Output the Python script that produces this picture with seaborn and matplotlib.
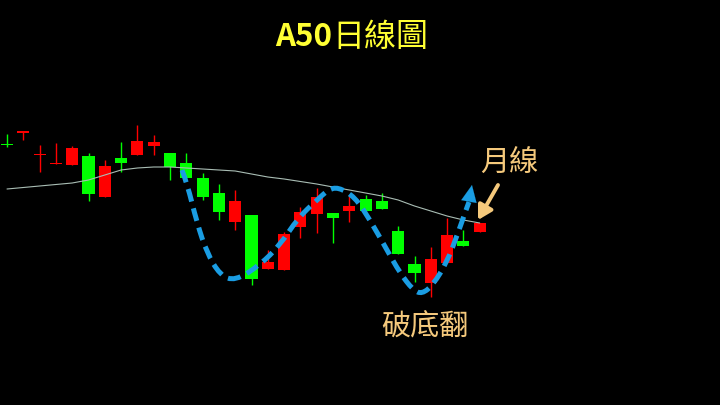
import numpy as np
import pandas as pd
import matplotlib
matplotlib.use("Agg")
import matplotlib.pyplot as plt
from matplotlib.path import Path
from matplotlib.patches import PathPatch
import seaborn as sns

# 日K資料 (相對價位, 由圖讀出)
body_top = [261, 274, 250.5, 241.5, 257, 249, 239, 247, 264, 263,
            252, 242, 227, 212, 204, 190, 143, 171, 193, 208,
            192, 199, 206, 204, 174, 141, 146, 170, 164, 182]
body_bot = [260, 272, 250, 241, 240, 211, 208, 242, 250, 259,
            238, 227, 208, 193, 183, 126, 136, 135, 178, 191,
            187, 194, 194, 196, 151, 132, 122, 142, 159, 173]
high = [271, 274, 260, 262, 259, 252, 245, 263, 280, 270,
        252, 252, 232, 221, 215, 190, 155, 173, 198, 217,
        192, 210, 210, 212, 179, 149, 158, 187, 175, 182]
low = [258, 265, 233, 241, 240, 204, 208, 233, 250, 250,
       225, 227, 205, 185, 175, 120, 136, 135, 167, 172,
       162, 183, 194, 196, 151, 123, 108, 142, 159, 173]
is_red = [0, 1, 1, 1, 1, 0, 1, 0, 1, 1,
          0, 0, 0, 0, 1, 0, 1, 1, 1, 1,
          0, 1, 0, 0, 0, 0, 1, 1, 0, 1]
ma_line = [216, 217.5, 219, 220.5, 222, 225, 230, 235, 237, 238,
           238, 237, 236, 235, 234, 231, 228, 226, 223.5, 221,
           218, 215, 212, 209, 205, 199, 194, 189, 185, 182]

# 手繪破底翻虛線 (畫面像素)
swing_x = [182, 187, 197, 207, 220, 235, 260, 280, 298, 317, 328, 338,
           355, 370, 387, 400, 413, 422, 433, 447, 458, 466, 469]
swing_y = [170, 183, 223, 253, 275, 281, 265, 245, 218, 200, 190, 187,
           197, 220, 250, 273, 290, 294, 285, 262, 233, 210, 202]

df = pd.DataFrame({"idx": np.arange(len(body_top)), "ma": ma_line})

sns.set_theme(style="dark", rc={"axes.facecolor": "black",
                                "figure.facecolor": "black"})
plt.rcParams["font.family"] = ["Noto Sans CJK TC", "DejaVu Sans"]

RED = "#FF0000"
GREEN = "#00FF00"

fig = plt.figure(figsize=(7.2, 4.05), dpi=100)
ax = fig.add_axes([0, 0, 1, 1])
ax.set_facecolor("black")

cols = [RED if r else GREEN for r in is_red]
ax.vlines(df["idx"], low, high, colors=cols, linewidth=1)
heights = [max(t - b, 0.8) for t, b in zip(body_top, body_bot)]
ax.bar(df["idx"], heights, bottom=body_bot, width=0.74, color=cols,
       linewidth=0)
sns.lineplot(data=df, x="idx", y="ma", ax=ax, color="#A9BDB4",
             linewidth=0.8)

ax.set_xlim(-7 / 16.3, (720 - 7) / 16.3)
ax.set_ylim(0, 405)
ax.axis("off")

# 註解層 (像素座標)
ax2 = fig.add_axes([0, 0, 1, 1])
ax2.set_xlim(0, 720)
ax2.set_ylim(405, 0)
ax2.axis("off")
ax2.patch.set_alpha(0)

BLUE = "#1A9DE3"
pts = list(zip(swing_x, swing_y))
verts = [pts[0]]
codes = [Path.MOVETO]
for i in range(1, len(pts) - 1):
    mid = ((pts[i][0] + pts[i + 1][0]) / 2, (pts[i][1] + pts[i + 1][1]) / 2)
    verts += [pts[i], mid]
    codes += [Path.CURVE3, Path.CURVE3]
verts.append(pts[-1])
codes.append(Path.LINETO)
ax2.add_patch(PathPatch(Path(verts, codes), facecolor="none", edgecolor=BLUE,
                        linewidth=3.6, linestyle=(0, (2.6, 1.4)),
                        capstyle="butt"))
ax2.annotate("", xy=(472, 185), xytext=(469, 201),
             arrowprops=dict(arrowstyle="-|>,head_length=0.75,head_width=0.35",
                             color=BLUE, lw=0.1, mutation_scale=16,
                             shrinkA=0, shrinkB=0))

GOLD = "#F5C97C"
ax2.annotate("", xy=(478, 220), xytext=(498, 185),
             arrowprops=dict(arrowstyle="-|>,head_length=0.7,head_width=0.4",
                             color=GOLD, lw=2.8, mutation_scale=12,
                             shrinkA=0, shrinkB=0))
ax2.text(509, 163, "月線", color=GOLD, fontsize=21, ha="center", va="center")
ax2.text(425, 327, "破底翻", color=GOLD, fontsize=21, ha="center", va="center")

YEL = "#FFFF33"
ax2.text(332, 37, "A50", color=YEL, fontsize=22.5, fontweight="bold",
         ha="right", va="center")
ax2.text(332, 37, "日線圖", color=YEL, fontsize=23, ha="left", va="center")

fig.savefig("out.png", dpi=100, facecolor="black")
